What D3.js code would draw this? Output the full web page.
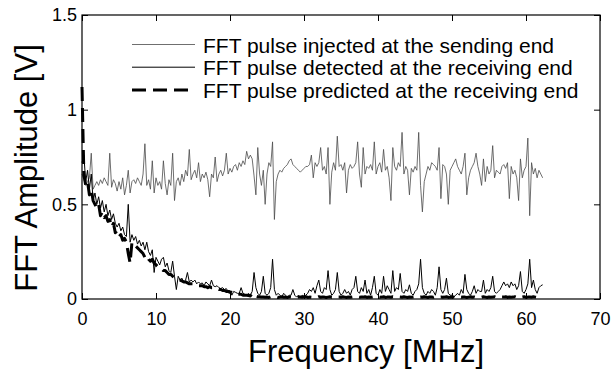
<!DOCTYPE html>
<html>
<head>
<meta charset="utf-8">
<script src="https://cdn.jsdelivr.net/npm/d3@7"></script>
<style>
  body { margin: 0; background: #fff; }
  svg { display: block; font-family: "Liberation Sans", Arial, sans-serif; }
</style>
</head>
<body>
<div id="chart"></div>
<script>
// FFT bins, 0.25 MHz apart, starting at 0 MHz
const binStep = 0.25

const injected = [
  .66,.63,.60,.62, .64,.77,.58,.60, .62,.60,.63,.61, .64,.62,.60,.77, .59,.63,.61,.57,
  .62,.58,.64,.55, .60,.68,.56,.62, .63,.61,.64,.62, .60,.66,.82,.60, .63,.58,.73,.56,
  .64,.60,.62,.58, .73,.61,.55,.63, .60,.77,.52,.62, .64,.60,.66,.62, .68,.65,.79,.63,
  .66,.68,.64,.72, .62,.66,.64,.67, .63,.54,.66,.64, .75,.62,.66,.68, .65,.68,.77,.66,
  .69,.67,.70,.71, .68,.72,.70,.73, .71,.78,.74,.76, .74,.65,.55,.80, .66,.60,.68,.50,
  .66,.72,.70,.83, .42,.62,.66,.68, .67,.69,.70,.71, .73,.74,.71,.70, .69,.68,.67,.68,
  .69,.70,.70,.71, .76,.64,.72,.70, .72,.80,.68,.70, .66,.80,.50,.67, .72,.68,.86,.70,
  .71,.68,.72,.56, .68,.71,.69,.70, .72,.83,.66,.59, .80,.66,.70,.69, .71,.68,.83,.66,
  .70,.72,.67,.79, .68,.70,.64,.52, .80,.70,.68,.72, .70,.88,.66,.70, .68,.55,.69,.67,
  .70,.68,.88,.60, .46,.62,.66,.70, .68,.72,.71,.70, .68,.80,.53,.71, .70,.66,.50,.68,
  .70,.72,.74,.70, .68,.66,.70,.77, .55,.64,.68,.70, .72,.77,.70,.66, .60,.74,.62,.70,
  .66,.68,.81,.64, .68,.67,.66,.70, .71,.69,.72,.53, .70,.66,.68,.64, .52,.74,.64,.68,
  .70,.85,.44,.72, .66,.69,.64,.68, .66,.64
]

const detected = [
  .72,.76,.62,.68, .58,.66,.52,.56, .50,.54,.48,.52, .46,.50,.44,.47, .42,.45,.40,.38,
  .40,.36,.38,.34, .33,.50,.30,.34, .31,.33,.29,.31, .28,.30,.26,.30, .25,.23,.26,.14,
  .22,.20,.18,.21, .22,.17,.19,.15, .14,.20,.12,.05, .12,.10,.11,.09, .10,.14,.09,.10,
  .09,.10,.08,.09, .08,.085,.07,.09, .08,.07,.10,.07, .065,.07,.06,.055, .06,.05,.055,.04,
  .045,.02,.04,.035, .03,.03,.06,.03, .025,.02,.03,.02, .04,.14,.06,.03, .02,.04,.12,.03,
  .02,.03,.06,.21, .05,.02,.03,.02, .01,.03,.02,.01, .02,.02,.05,.02, .01,.02,.01,.02,
  .015,.02,.03,.05, .04,.06,.03,.07, .10,.04,.03,.06, .05,.15,.05,.02, .03,.05,.14,.04,
  .02,.03,.05,.03, .04,.02,.05,.06, .12,.04,.03,.06, .04,.10,.03,.05, .02,.06,.12,.03,
  .02,.05,.03,.12, .04,.07,.05,.03, .15,.04,.06,.05, .135,.04,.03,.05, .04,.075,.03,.02,
  .04,.05,.08,.21, .06,.03,.02,.04, .03,.05,.04,.02, .06,.17,.05,.03, .05,.11,.03,.02,
  .02,.01,.02,.03, .02,.05,.03,.13, .05,.03,.02,.04, .07,.03,.05,.04, .04,.10,.03,.05,
  .04,.06,.12,.04, .03,.04,.05,.07, .09,.07,.08,.06, .09,.07,.08,.05, .07,.145,.04,.03,
  .05,.08,.21,.06, .10,.05,.03,.06, .07,.075
]

const predicted = [
  1.12,.66,.60,.62, .55,.58,.52,.50, .48,.50,.44,.46, .43,.44,.41,.42, .38,.40,.35,.36,
  .33,.34,.31,.32, .30,.24,.19,.30, .29,.28,.27,.26, .25,.24,.22,.23, .21,.20,.21,.19,
  .18,.17,.17,.16, .15,.15,.14,.13, .13,.12,.11,.11, .10,.10,.095,.09, .09,.085,.08,.08,
  .08,.075,.075,.07, .07,.07,.065,.065, .06,.065,.06,.06, .055,.055,.05,.05, .045,.045,.04,.04,
  .035,.035,.03,.03, .03,.025,.025,.02, .02,.02,.018,.016, .03,.025,.015,.012, .012,.010,.011,.009,
  .010,.008,.012,.010, .009,.011,.008,.010, .012,.009,.010,.008, .011,.010,.009,.012, .008,.010,.011,.009,
  .010,.012,.008,.010, .009,.011,.010,.008, .012,.009,.011,.010, .008,.010,.012,.009, .011,.008,.010,.010,
  .009,.012,.010,.008, .011,.009,.010,.012, .008,.011,.009,.010, .010,.012,.008,.011, .009,.010,.012,.008,
  .011,.009,.010,.012, .008,.010,.011,.009, .012,.010,.008,.011, .010,.009,.012,.010, .008,.011,.009,.010,
  .012,.008,.010,.011, .009,.012,.010,.008, .011,.010,.009,.012, .008,.010,.011,.009, .010,.012,.008,.010,
  .009,.011,.010,.008, .012,.009,.011,.010, .008,.010,.012,.009, .011,.008,.010,.010, .009,.012,.010,.008,
  .011,.009,.010,.012, .008,.011,.009,.010, .010,.012,.008,.011, .009,.010,.012,.008, .011,.009,.010,.012,
  .008,.010,.011,.009, .012,.010,.008,.011, .010,.009
]

const xTicks = [0, 10, 20, 30, 40, 50, 60, 70]
const yTicks = [0, 0.5, 1, 1.5]
const legendLabels = [
  'FFT pulse injected at the sending end',
  'FFT pulse detected at the receiving end',
  'FFT pulse predicted at the receiving end'
]

const width = 612
const height = 372
const margin = { top: 15, right: 12, bottom: 73, left: 82 }
const innerW = width - margin.left - margin.right
const innerH = height - margin.top - margin.bottom

const svg = d3.select('#chart')
  .append('svg')
  .attr('width', width)
  .attr('height', height)

const g = svg.append('g')
  .attr('transform', `translate(${margin.left},${margin.top})`)

const x = d3.scaleLinear().domain([0, 70]).range([0, innerW])
const y = d3.scaleLinear().domain([0, 1.5]).range([innerH, 0])

const line = d3.line()
  .x((d, i) => x(i * binStep))
  .y(d => y(d))

// series styles: grey thin, black thin, black thick dashed
const series = [
  { data: injected, stroke: '#4a4a4a', width: 0.8, dash: null },
  { data: detected, stroke: '#000', width: 1, dash: null },
  { data: predicted, stroke: '#000', width: 3, dash: '14,7' }
]

series.forEach(s => {
  g.append('path')
    .datum(s.data)
    .attr('fill', 'none')
    .attr('stroke', s.stroke)
    .attr('stroke-width', s.width)
    .attr('stroke-dasharray', s.dash)
    .attr('stroke-linejoin', 'round')
    .attr('d', line)
})

// axes, ticks pointing inward
const styleAxis = sel => {
  sel.select('.domain').remove()
  sel.selectAll('.tick line').attr('stroke', '#000').attr('stroke-width', 1)
  sel.selectAll('.tick text').attr('fill', '#000').style('font-size', '18px')
}

g.append('g')
  .attr('transform', `translate(0,${innerH})`)
  .call(d3.axisBottom(x).tickValues(xTicks).tickSize(-6).tickPadding(13))
  .call(styleAxis)

g.append('g')
  .call(d3.axisTop(x).tickValues(xTicks).tickSize(-6).tickFormat(''))
  .call(styleAxis)

g.append('g')
  .call(d3.axisLeft(y).tickValues(yTicks).tickSize(-6).tickPadding(5).tickFormat(d3.format('')))
  .call(styleAxis)

g.append('g')
  .attr('transform', `translate(${innerW},0)`)
  .call(d3.axisRight(y).tickValues(yTicks).tickSize(-6).tickFormat(''))
  .call(styleAxis)

g.append('rect')
  .attr('width', innerW)
  .attr('height', innerH)
  .attr('fill', 'none')
  .attr('stroke', '#000')
  .attr('stroke-width', 1.2)

// legend
const legend = svg.append('g').attr('transform', 'translate(132,44.5)')
legendLabels.forEach((label, i) => {
  const s = series[i]
  const row = legend.append('g').attr('transform', `translate(0,${i * 22.7})`)
  row.append('line')
    .attr('x1', 0).attr('x2', 63)
    .attr('stroke', s.stroke)
    .attr('stroke-width', s.width)
    .attr('stroke-dasharray', s.dash)
  row.append('text')
    .attr('x', 71)
    .attr('y', 8)
    .style('font-size', '21px')
    .text(label)
})

// axis titles
svg.append('text')
  .attr('x', 366)
  .attr('y', 362)
  .attr('text-anchor', 'middle')
  .style('font-size', '31px')
  .text('Frequency [MHz]')

svg.append('text')
  .attr('transform', 'translate(37,168) rotate(-90)')
  .attr('text-anchor', 'middle')
  .style('font-size', '31px')
  .text('FFT Amplitude [V]')
</script>
</body>
</html>
